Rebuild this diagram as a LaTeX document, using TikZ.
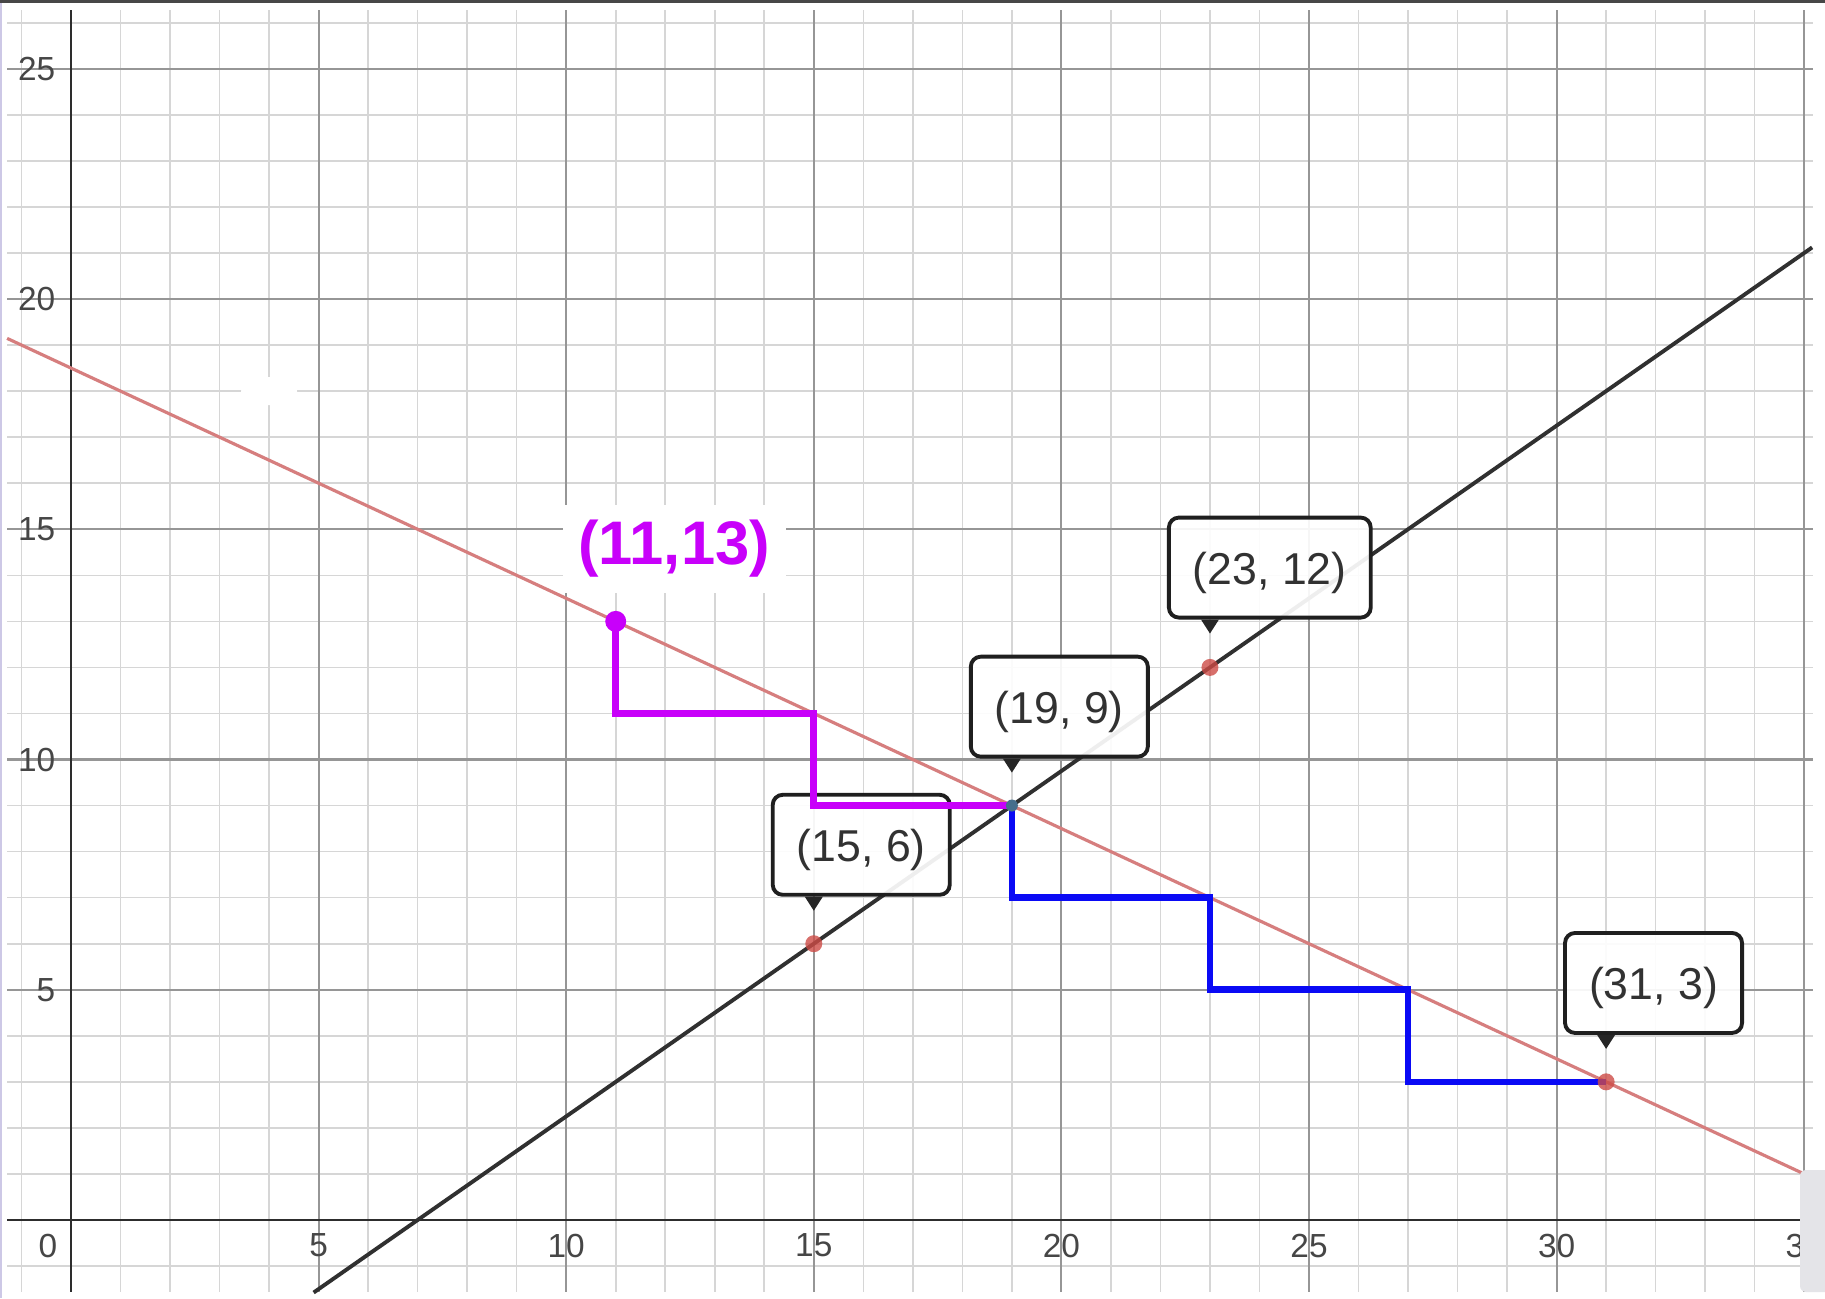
\documentclass[tikz,border=0pt]{standalone}
\usepackage{fontspec}
\setmainfont{Liberation Sans}
\usetikzlibrary{calc}
\definecolor{minorgrid}{RGB}{214,214,214}
\definecolor{majorgrid}{RGB}{150,150,150}
\definecolor{axiscol}{RGB}{45,45,45}
\definecolor{redline}{RGB}{214,126,126}
\definecolor{blackline}{RGB}{48,48,48}
\definecolor{mag}{RGB}{200,0,250}
\definecolor{bluepath}{RGB}{10,10,245}
\definecolor{reddot}{RGB}{205,75,70}
\definecolor{bluedot}{RGB}{70,110,140}
\definecolor{labeltext}{RGB}{50,50,50}
\definecolor{ticktext}{RGB}{70,70,70}
\definecolor{patchgray}{RGB}{228,228,232}
\definecolor{leftedge}{RGB}{205,200,230}
\begin{document}
\begin{tikzpicture}[x=0.4952cm,y=0.4605cm,
  minorline/.style={draw=minorgrid, line width=0.45pt},
  majorline/.style={draw=majorgrid, line width=0.6pt},
  axisline/.style={draw=axiscol, line width=0.75pt},
  ticklbl/.style={text=ticktext, font=\fontsize{9.5}{11}\selectfont, inner sep=0pt},
  lbl/.style={draw=black!88, line width=1.1pt, rounded corners=0.1cm, fill=white,
    fill opacity=0.92, text opacity=1, text=labeltext,
    font=\fontsize{12.7}{14}\selectfont, minimum height=1.0cm, inner xsep=0.24cm,
    inner ysep=0pt, text height=0.40cm, text depth=0.06cm, anchor=south west},
  ptr/.style={fill=black!85},
  magpath/.style={draw=mag, line width=1.9pt},
  bluepathst/.style={draw=bluepath, line width=1.9pt},
  reddotst/.style={circle, fill=reddot, fill opacity=0.8, minimum size=0.17cm, inner sep=0pt},
  magdot/.style={circle, fill=mag, minimum size=0.21cm, inner sep=0pt},
  bluedotst/.style={circle, fill=bluedot, minimum size=0.12cm, inner sep=0pt}
]
\useasboundingbox (-0.71cm,-0.78cm) rectangle (17.54cm,12.20cm);
\fill[white] (-0.71cm,-0.78cm) rectangle (17.54cm,12.20cm);

% grid
\foreach \i in {-1,...,35} \draw[minorline] (\i,-1.56) -- (\i,26.28);
\foreach \j in {-1,...,26} \draw[minorline] (-1.29,\j) -- (35.18,\j);
\foreach \i in {5,10,...,35} \draw[majorline] (\i,-1.56) -- (\i,26.28);
\foreach \j in {5,10,...,25} \draw[majorline] (-1.29,\j) -- (35.18,\j);
\fill[white] (4,18) ellipse (0.28cm and 0.14cm);

% axes
\draw[axisline] (-1.29,0) -- (34.95,0);
\draw[axisline] (0,-1.56) -- (0,26.28);

% tick labels
\node[ticklbl] (t0) at ([xshift=-0.23cm,yshift=-0.255cm]0,0) {0};
\foreach \i in {5,10,...,35} \node[ticklbl] (tx\i) at ([yshift=-0.255cm]\i,0) {\i};
\foreach \j in {5,10,...,25} \node[ticklbl, anchor=east] (ty\j) at ([xshift=-0.15cm]0,\j) {\j};

% lines
\draw[draw=redline, line width=0.9pt] (-1.29,19.145) -- (35.18,0.91);
\draw[draw=blackline, line width=1.1pt] (4.9,-1.575) -- (35.16,21.12);

% key points
\coordinate (P11) at (11,13);
\coordinate (P15) at (15,6);
\coordinate (P19) at (19,9);
\coordinate (P23) at (23,12);
\coordinate (P31) at (31,3);

% labels with pointers
\node[lbl] (L15) at ([xshift=-0.43cm]15,7.02) {(15, 6)};
\fill[ptr] ([xshift=-0.09cm]15,7.02) -- ([xshift=0.09cm]15,7.02) -- ([yshift=-0.14cm]15,7.02) -- cycle;
\node[lbl] (L19) at ([xshift=-0.43cm]19,10.02) {(19, 9)};
\fill[ptr] ([xshift=-0.09cm]19,10.02) -- ([xshift=0.09cm]19,10.02) -- ([yshift=-0.14cm]19,10.02) -- cycle;
\node[lbl] (L23) at ([xshift=-0.43cm]23,13.04) {(23, 12)};
\fill[ptr] ([xshift=-0.09cm]23,13.04) -- ([xshift=0.09cm]23,13.04) -- ([yshift=-0.14cm]23,13.04) -- cycle;
\node[lbl] (L31) at ([xshift=-0.43cm]31,4.02) {(31, 3)};
\fill[ptr] ([xshift=-0.09cm]31,4.02) -- ([xshift=0.09cm]31,4.02) -- ([yshift=-0.14cm]31,4.02) -- cycle;

\node[fill=white, minimum width=2.23cm, minimum height=0.88cm, inner sep=0pt, text=mag,
  font=\fontsize{17.5}{20}\selectfont\bfseries] (L11) at (12.18,14.57) {(11,13)};

% step paths
\draw[magpath] (P11) -- (11,11) -- (15,11) -- (15,9) -- (P19);
\draw[bluepathst] (P19) -- (19,7) -- (23,7) -- (23,5) -- (27,5) -- (27,3) -- (P31);

% dots
\node[reddotst] (D15) at (P15) {};
\node[reddotst] (D23) at (P23) {};
\node[reddotst] (D31) at (P31) {};
\node[bluedotst] (D19) at (P19) {};
\node[magdot] (D11) at (P11) {};

% frame details
\fill[patchgray, rounded corners=0.06cm] (17.29cm,-0.72cm) rectangle (17.70cm,0.50cm);
\fill[black!72] (-0.71cm,12.17cm) rectangle (17.54cm,12.20cm);
\fill[leftedge] (-0.71cm,-0.78cm) rectangle (-0.69cm,12.17cm);
\end{tikzpicture}
\end{document}
